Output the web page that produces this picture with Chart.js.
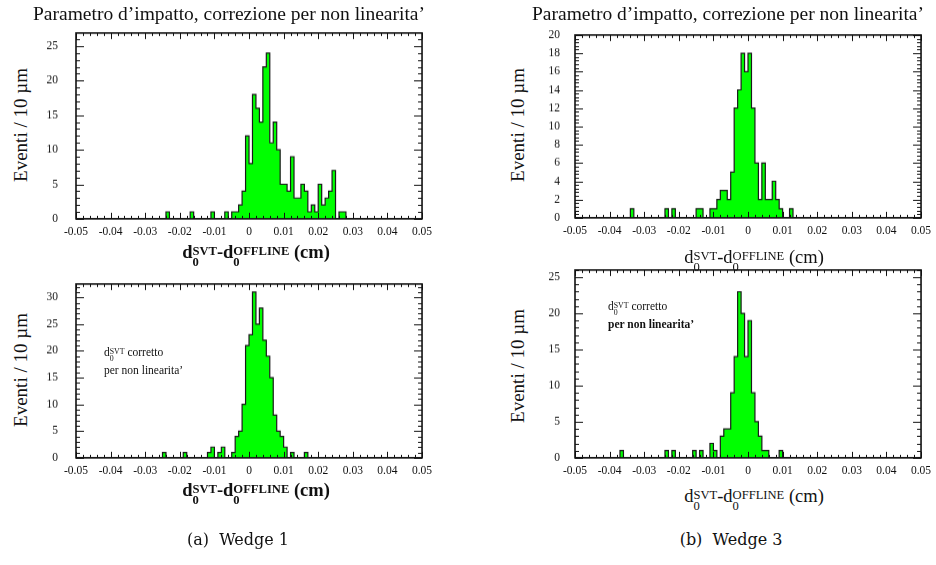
<!DOCTYPE html>
<html>
<head>
<meta charset="utf-8">
<script src="https://cdn.jsdelivr.net/npm/chart.js@4.4.0/dist/chart.umd.min.js"></script>
<style>
  body { margin: 0; width: 936px; height: 565px; background: #fff; position: relative; overflow: hidden;
         font-family: "Liberation Serif", serif; color: #111; }
  canvas { position: absolute; }
  .t { position: absolute; white-space: nowrap; line-height: 1; }
  .c { transform: translateX(-50%); }
  .rot { transform: translate(-50%, -50%) rotate(-90deg); font-size: 19px; }
  .ss { display: inline-flex; flex-direction: column; font-size: 0.68em; line-height: 0.9; vertical-align: 0.25em; }
  .xt { font-size: 18.5px; }
  .b { font-weight: bold; }
  .note { font-size: 11.5px; line-height: 16px; }
  .cap { font-family: "DejaVu Serif", serif; font-size: 16px; }
  .head { font-size: 19.5px; }
</style>
</head>
<body>
<canvas id="w1raw" width="400" height="220" style="left:36px;top:25px"></canvas>
<canvas id="w1corr" width="400" height="210" style="left:36px;top:276px"></canvas>
<canvas id="w3raw" width="400" height="220" style="left:535px;top:27px"></canvas>
<canvas id="w3corr" width="400" height="220" style="left:535px;top:262px"></canvas>

<div class="t head" style="left:33px;top:4px">Parametro d’impatto, correzione per non linearita’</div>
<div class="t head" style="left:532px;top:4px">Parametro d’impatto, correzione per non linearita’</div>

<div class="t xt b c" style="left:256px;top:243px">d<span class="ss"><span>SVT</span><span>0</span></span>-d<span class="ss"><span>OFFLINE</span><span>0</span></span> (cm)</div>
<div class="t xt b c" style="left:256px;top:481px">d<span class="ss"><span>SVT</span><span>0</span></span>-d<span class="ss"><span>OFFLINE</span><span>0</span></span> (cm)</div>
<div class="t xt c" style="left:754px;top:248px">d<span class="ss"><span>SVT</span><span>0</span></span>-d<span class="ss"><span>OFFLINE</span><span>0</span></span> (cm)</div>
<div class="t xt c" style="left:754px;top:487px">d<span class="ss"><span>SVT</span><span>0</span></span>-d<span class="ss"><span>OFFLINE</span><span>0</span></span> (cm)</div>

<div class="t rot" style="left:20px;top:125px">Eventi / 10 µm</div>
<div class="t rot" style="left:20px;top:370px">Eventi / 10 µm</div>
<div class="t rot" style="left:517px;top:125px">Eventi / 10 µm</div>
<div class="t rot" style="left:517px;top:366px">Eventi / 10 µm</div>

<div class="t note" style="left:104px;top:344px">d<span class="ss"><span>SVT</span><span>0</span></span> corretto<br>per non linearita’</div>
<div class="t note" style="left:608px;top:298px">d<span class="ss"><span>SVT</span><span>0</span></span> corretto<br><span class="b">per non linearita’</span></div>

<div class="t cap c" style="left:238px;top:532px">(a)&nbsp; Wedge 1</div>
<div class="t cap c" style="left:731px;top:532px">(b)&nbsp; Wedge 3</div>

<script>
// 100 bins of 10 µm from -0.05 to 0.05 cm
const xLow = -0.05;
const xHigh = 0.05;
const binWidth = 0.001;
const xTicks = [-0.05, -0.04, -0.03, -0.02, -0.01, 0, 0.01, 0.02, 0.03, 0.04, 0.05];

// Wedge 1, before correction
const w1Raw = [
  0, 0, 0, 0, 0, 0, 0, 0, 0, 0,
  0, 0, 0, 0, 0, 0, 0, 0, 0, 0,
  0, 0, 0, 0, 0, 0, 1, 0, 0, 0,
  0, 0, 0, 1, 0, 0, 0, 0, 0, 1,
  0, 0, 0, 1, 0, 1, 1, 2, 4, 12,
  8, 18, 16, 14, 22, 24, 11, 14, 10, 5,
  5, 4, 9, 3, 3, 5, 4, 1, 2, 1,
  5, 2, 3, 4, 7, 0, 1, 1, 0, 0,
  0, 0, 0, 0, 0, 0, 0, 0, 0, 0,
  0, 0, 0, 0, 0, 0, 0, 0, 0, 0
];
// Wedge 1, corrected
const w1Corr = [
  0, 0, 0, 0, 0, 0, 0, 0, 0, 0,
  0, 0, 0, 0, 0, 0, 0, 0, 0, 0,
  0, 0, 0, 0, 0, 1, 0, 0, 0, 0,
  0, 1, 0, 0, 0, 0, 0, 0, 1, 2,
  0, 1, 2, 0, 0, 1, 4, 5, 10, 21,
  23, 31, 25, 28, 22, 19, 15, 8, 5, 4,
  2, 0, 1, 0, 0, 0, 1, 0, 0, 0,
  0, 0, 0, 0, 0, 0, 0, 0, 0, 0,
  0, 0, 0, 0, 0, 0, 0, 0, 0, 0,
  0, 0, 0, 0, 0, 0, 0, 0, 0, 0
];
// Wedge 3, before correction
const w3Raw = [
  0, 0, 0, 0, 0, 0, 0, 0, 0, 0,
  0, 0, 0, 0, 0, 0, 1, 0, 0, 0,
  0, 0, 0, 0, 0, 0, 1, 0, 1, 0,
  0, 0, 0, 0, 0, 1, 1, 0, 0, 1,
  1, 2, 3, 3, 2, 5, 12, 14, 18, 16,
  18, 12, 6, 2, 6, 2, 2, 4, 2, 1,
  0, 0, 1, 0, 0, 0, 0, 0, 0, 0,
  0, 0, 0, 0, 0, 0, 0, 0, 0, 0,
  0, 0, 0, 0, 0, 0, 0, 0, 0, 0,
  0, 0, 0, 0, 0, 0, 0, 0, 0, 0
];
// Wedge 3, corrected
const w3Corr = [
  0, 0, 0, 0, 0, 0, 0, 0, 0, 0,
  0, 0, 0, 1, 0, 0, 0, 0, 0, 0,
  0, 0, 0, 0, 0, 0, 1, 0, 1, 0,
  0, 0, 0, 0, 1, 0, 1, 0, 0, 2,
  1, 0, 3, 4, 4, 9, 14, 23, 20, 14,
  19, 9, 5, 3, 1, 1, 0, 0, 0, 1,
  0, 0, 0, 0, 0, 0, 0, 0, 0, 0,
  0, 0, 0, 0, 0, 0, 0, 0, 0, 0,
  0, 0, 0, 0, 0, 0, 0, 0, 0, 0,
  0, 0, 0, 0, 0, 0, 0, 0, 0, 0
];

const yTicksW1Raw = [0, 5, 10, 15, 20, 25];
const yTicksW1Corr = [0, 5, 10, 15, 20, 25, 30];
const yTicksW3Raw = [0, 2, 4, 6, 8, 10, 12, 14, 16, 18, 20];
const yTicksW3Corr = [0, 5, 10, 15, 20, 25];

// turn bin contents into left-edge points for a stepped line
function histPoints(counts) {
  const pts = counts.map((c, i) => ({ x: xLow + i * binWidth, y: c }));
  pts.push({ x: xLow + counts.length * binWidth, y: 0 });
  return pts;
}

// ROOT-like frame with inward ticks on all four sides
const frameTicks = {
  id: 'frameTicks',
  afterDraw(chart, args, opts) {
    const ctx = chart.ctx;
    const a = chart.chartArea;
    const x = chart.scales.x, y = chart.scales.y;
    ctx.save();
    ctx.strokeStyle = '#111';
    ctx.lineWidth = 1;
    ctx.beginPath();
    for (let k = 0; k <= 50; k++) {
      const px = Math.round(x.getPixelForValue(xLow + k * 0.002)) + 0.5;
      const len = k % 5 === 0 ? 6 : 3;
      ctx.moveTo(px, a.bottom); ctx.lineTo(px, a.bottom - len);
      ctx.moveTo(px, a.top); ctx.lineTo(px, a.top + len);
    }
    const nMinor = Math.floor(y.max / opts.minor + 1e-6);
    for (let k = 0; k <= nMinor; k++) {
      const v = k * opts.minor;
      const py = Math.round(y.getPixelForValue(v)) + 0.5;
      const major = Math.abs(v / opts.major - Math.round(v / opts.major)) < 1e-6;
      const len = major ? 8 : 4;
      ctx.moveTo(a.left, py); ctx.lineTo(a.left + len, py);
      ctx.moveTo(a.right, py); ctx.lineTo(a.right - len, py);
    }
    ctx.stroke();
    ctx.lineWidth = 1.6;
    ctx.strokeRect(a.left, a.top, a.right - a.left, a.bottom - a.top);
    ctx.restore();
  }
};

const tickFont = { family: '"Liberation Serif", serif', size: 11.5 };

function makeHist(id, counts, yMax, yTicks, yMajor, yMinor, yPad, frame) {
  const canvas = document.getElementById(id);
  const chart = new Chart(canvas, {
    type: 'line',
    data: {
      datasets: [{
        data: histPoints(counts),
        stepped: true,
        fill: 'origin',
        backgroundColor: '#00ff00',
        borderColor: '#1a1a1a',
        borderWidth: 1.2,
        pointRadius: 0
      }]
    },
    options: {
      responsive: false,
      maintainAspectRatio: false,
      animation: false,
      devicePixelRatio: 1,
      layout: { padding: { top: 8, right: 14, left: 0, bottom: 0 } },
      plugins: {
        legend: { display: false },
        tooltip: { enabled: false },
        frameTicks: { major: yMajor, minor: yMinor }
      },
      scales: {
        x: {
          type: 'linear', min: xLow, max: xHigh,
          grid: { display: false, drawTicks: false },
          border: { display: false },
          afterBuildTicks: s => { s.ticks = xTicks.map(v => ({ value: v })); },
          afterFit: s => { s.height = 22; },
          ticks: {
            padding: 6, maxRotation: 0, autoSkip: false, font: tickFont, color: '#111',
            callback: v => Math.abs(v) < 1e-9 ? '0' : v.toFixed(2)
          }
        },
        y: {
          min: 0, max: yMax,
          grid: { display: false, drawTicks: false },
          border: { display: false },
          afterBuildTicks: s => { s.ticks = yTicks.map(v => ({ value: v })); },
          afterFit: s => { s.width = 40; },
          ticks: { padding: yPad, font: tickFont, color: '#111', callback: v => String(v) }
        }
      }
    },
    plugins: [frameTicks]
  });

  // size and place the canvas so the plot frame sits where the reference has it
  for (let pass = 0; pass < 2; pass++) {
    const a = chart.chartArea;
    const w = chart.width + (frame.r - frame.l) - (a.right - a.left);
    const h = chart.height + (frame.b - frame.t) - (a.bottom - a.top);
    chart.resize(w, h);
  }
  const a = chart.chartArea;
  canvas.style.left = (frame.l - a.left) + 'px';
  canvas.style.top = (frame.t - a.top) + 'px';
}

makeHist('w1raw', w1Raw, 26.9, yTicksW1Raw, 5, 1, 18, { l: 76, r: 422, t: 33, b: 218 });
makeHist('w1corr', w1Corr, 32.5, yTicksW1Corr, 5, 1, 18, { l: 76, r: 422, t: 284, b: 457 });
makeHist('w3raw', w3Raw, 20, yTicksW3Raw, 2, 0.4, 15, { l: 575, r: 921, t: 35, b: 217 });
makeHist('w3corr', w3Corr, 26, yTicksW3Corr, 5, 1, 15, { l: 575, r: 921, t: 270, b: 457 });
</script>
</body>
</html>
